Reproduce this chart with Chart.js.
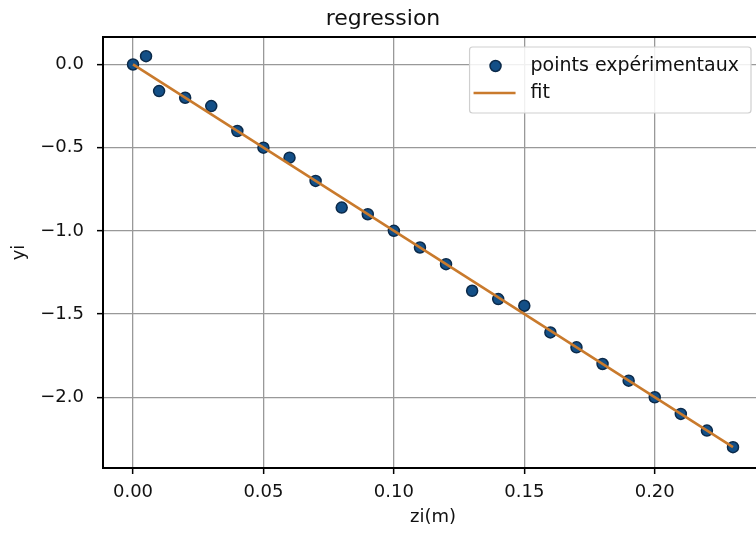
<!DOCTYPE html>
<html>
<head>
<meta charset="utf-8">
<script src="https://cdn.jsdelivr.net/npm/chart.js@4/dist/chart.umd.min.js"></script>
<style>
  html, body { margin: 0; padding: 0; background: #ffffff; overflow: hidden; }
  #wrap { position: relative; width: 770px; height: 533px; }
</style>
</head>
<body>
<div id="wrap"><canvas id="c"></canvas></div>
<script>
// ---- data ----
const xi = [0, 0.005, 0.01, 0.02, 0.03, 0.04, 0.05, 0.06, 0.07, 0.08, 0.09, 0.10, 0.11, 0.12,
            0.13, 0.14, 0.15, 0.16, 0.17, 0.18, 0.19, 0.20, 0.21, 0.22, 0.23];
const yi = [0, 0.05, -0.16, -0.2, -0.25, -0.4, -0.5, -0.56, -0.7, -0.86, -0.9, -1.0, -1.1, -1.2,
            -1.36, -1.41, -1.45, -1.61, -1.7, -1.8, -1.9, -2.0, -2.1, -2.2, -2.3];
const fitX = [0, 0.23];
const fitY = [0, -2.3];
const seriesNames = ['points expérimentaux', 'fit'];
const titleText = 'regression';
const xLabel = 'zi(m)';
const yLabel = 'yi';

const FONT = 'DejaVu Sans';
const TEXT = '#111111';
const pointFill = '#134f87';
const pointEdge = '#0b2a4a';
const fitColor = '#c97a2c';

const scatterData = xi.map((x, i) => ({x: x, y: yi[i]}));
const fitData = fitX.map((x, i) => ({x: x, y: fitY[i]}));

const framePlugin = {
  id: 'frame',
  afterDatasetsDraw(chart) {
    const ctx = chart.ctx, a = chart.chartArea;
    ctx.save();
    ctx.strokeStyle = '#000';
    ctx.lineWidth = 2;
    ctx.strokeRect(a.left, a.top, a.right - a.left, a.bottom - a.top);
    ctx.restore();
  }
};

const legendPlugin = {
  id: 'boxLegend',
  afterDraw(chart) {
    const ctx = chart.ctx, a = chart.chartArea;
    ctx.save();
    ctx.font = '19px "' + FONT + '"';
    const textW = Math.max(...seriesNames.map(s => ctx.measureText(s).width));
    const right = a.right - 12;
    const top = a.top + 10;
    const w = 61 + textW + 12;
    const h = 66;
    const left = right - w;
    ctx.fillStyle = 'rgba(255,255,255,0.85)';
    ctx.strokeStyle = '#cfcfcf';
    ctx.lineWidth = 1.2;
    ctx.beginPath();
    if (ctx.roundRect) ctx.roundRect(left, top, w, h, 3); else ctx.rect(left, top, w, h);
    ctx.fill();
    ctx.stroke();
    const r1 = top + 19, r2 = top + 46;
    ctx.beginPath();
    ctx.arc(left + 26, r1, 5.5, 0, Math.PI * 2);
    ctx.fillStyle = pointFill;
    ctx.fill();
    ctx.lineWidth = 1.5;
    ctx.strokeStyle = pointEdge;
    ctx.stroke();
    ctx.beginPath();
    ctx.moveTo(left + 4, r2);
    ctx.lineTo(left + 46, r2);
    ctx.strokeStyle = fitColor;
    ctx.lineWidth = 2.6;
    ctx.stroke();
    ctx.fillStyle = TEXT;
    ctx.textBaseline = 'middle';
    ctx.textAlign = 'left';
    ctx.fillText(seriesNames[0], left + 61, r1);
    ctx.fillText(seriesNames[1], left + 61, r2);
    ctx.restore();
  }
};

const minus = v => (v < 0 ? '\u2212' : '');

new Chart(document.getElementById('c'), {
  type: 'scatter',
  data: {
    datasets: [
      {
        label: seriesNames[0],
        data: scatterData,
        backgroundColor: pointFill,
        borderColor: pointEdge,
        borderWidth: 1.5,
        pointRadius: 5.5,
        order: 2
      },
      {
        label: seriesNames[1],
        type: 'line',
        data: fitData,
        showLine: true,
        borderColor: fitColor,
        borderWidth: 2.6,
        pointRadius: 0,
        fill: false,
        order: 1
      }
    ]
  },
  options: {
    responsive: true,
    maintainAspectRatio: false,
    animation: false,
    devicePixelRatio: 1,
    layout: { padding: { left: 0, right: 4, top: 0, bottom: 0 } },
    plugins: {
      legend: { display: false },
      tooltip: { enabled: false },
      title: {
        display: true,
        text: titleText,
        color: TEXT,
        font: { family: FONT, size: 22, weight: 'normal' },
        padding: { top: 6, bottom: 4.6 }
      }
    },
    scales: {
      x: {
        type: 'linear',
        min: -0.0115,
        max: 0.2415,
        afterFit(s) { s.height = 65; },
        ticks: {
          stepSize: 0.05,
          includeBounds: false,
          padding: 8,
          color: TEXT,
          font: { family: FONT, size: 18 },
          maxRotation: 0,
          callback: v => minus(v) + Math.abs(v).toFixed(2)
        },
        grid: { color: '#999999', lineWidth: 1.3, tickColor: '#000', tickLength: 6, tickWidth: 1.5 },
        border: { color: '#000', width: 2 },
        title: { display: true, text: xLabel, color: TEXT, font: { family: FONT, size: 18 }, padding: { top: 0, bottom: 5 } }
      },
      y: {
        type: 'linear',
        min: -2.425,
        max: 0.165,
        afterFit(s) { s.width = 103; },
        ticks: {
          stepSize: 0.5,
          includeBounds: false,
          padding: 13,
          color: TEXT,
          font: { family: FONT, size: 18 },
          callback: v => minus(v) + Math.abs(v).toFixed(1)
        },
        grid: { color: '#999999', lineWidth: 1.3, tickColor: '#000', tickLength: 6, tickWidth: 1.5 },
        border: { color: '#000', width: 2 },
        title: { display: true, text: yLabel, color: TEXT, font: { family: FONT, size: 18 }, padding: { top: 9, bottom: 0 } }
      }
    }
  },
  plugins: [framePlugin, legendPlugin]
});
</script>
</body>
</html>
